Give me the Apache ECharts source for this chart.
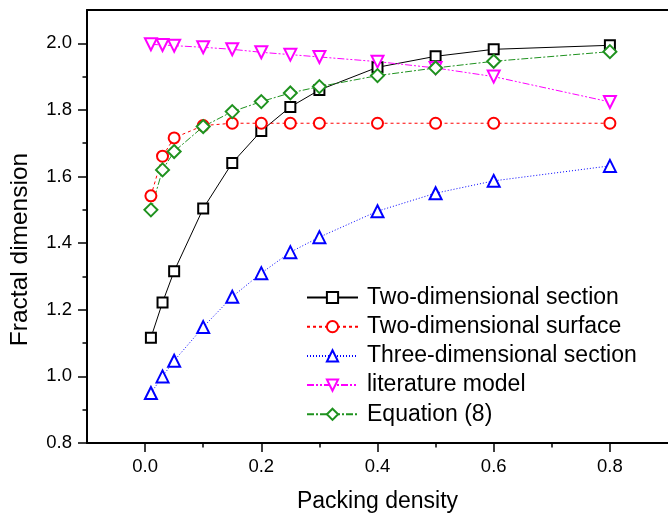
<!DOCTYPE html>
<html>
<head>
<meta charset="utf-8">
<script src="https://cdn.jsdelivr.net/npm/echarts@6/dist/echarts.min.js"></script>
<style>html,body{margin:0;padding:0;background:#fff}#c{width:668px;height:518px}</style>
</head>
<body>
<div id="c"></div>
<script>
const packingDensity = [0.01, 0.03, 0.05, 0.1, 0.15, 0.2, 0.25, 0.3, 0.4, 0.5, 0.6, 0.8];
const twoDimSection   = [1.116, 1.222, 1.316, 1.504, 1.641, 1.737, 1.809, 1.860, 1.928, 1.961, 1.982, 1.994];
const twoDimSurface   = [1.542, 1.661, 1.716, 1.753, 1.760, 1.760, 1.760, 1.760, 1.760, 1.760, 1.760, 1.760];
const threeDimSection = [0.950, 1.000, 1.047, 1.148, 1.239, 1.310, 1.373, 1.418, 1.496, 1.550, 1.587, 1.632];
const literatureModel = [1.997, 1.995, 1.993, 1.988, 1.982, 1.973, 1.966, 1.959, 1.945, 1.926, 1.900, 1.824];
const equation8       = [1.500, 1.620, 1.675, 1.750, 1.795, 1.825, 1.851, 1.870, 1.903, 1.926, 1.946, 1.975];

const xMajorTicks = [0.0, 0.2, 0.4, 0.6, 0.8];
const xMinorTicks = [0.1, 0.3, 0.5, 0.7];
const yMajorTicks = [0.8, 1.0, 1.2, 1.4, 1.6, 1.8, 2.0];
const yMinorTicks = [0.9, 1.1, 1.3, 1.5, 1.7, 1.9];

const seriesNames = ['Two-dimensional section', 'Two-dimensional surface', 'Three-dimensional section', 'literature model', 'Equation (8)'];

const FONT = '"Liberation Sans", Arial, sans-serif';
const chart = echarts.init(document.getElementById('c'), null, {renderer: 'canvas'});

function pairs(ys) { return packingDensity.map((x, i) => [x, ys[i]]); }

const xRange = {min: -0.1, max: 0.9};
const yRange = {min: 0.8, max: 2.1};

const option = {
  backgroundColor: '#fff',
  animation: false,
  grid: {left: 86, top: 10, right: -8, bottom: 72, containLabel: false},
  legend: {
    orient: 'vertical', left: 306, top: 286, padding: 0,
    itemWidth: 51, itemHeight: 14, itemGap: 6.2,
    textStyle: {fontFamily: FONT, fontSize: 23, color: '#000', lineHeight: 23, padding: [0, 0, 0, 4]},
    data: seriesNames
  },
  xAxis: [
    {type: 'value', position: 'bottom', ...xRange,
     axisLine: {onZero: false, lineStyle: {color: '#000', width: 2}},
     axisTick: {customValues: xMajorTicks, length: 9, lineStyle: {color: '#000', width: 1.5}},
     axisLabel: {customValues: xMajorTicks, formatter: v => v.toFixed(1), fontFamily: FONT, fontSize: 18.5, color: '#000', margin: 14},
     splitLine: {show: false},
     name: 'Packing density', nameLocation: 'middle', nameGap: 47,
     nameTextStyle: {fontFamily: FONT, fontSize: 23, color: '#000'}},
    {type: 'value', position: 'bottom', ...xRange,
     axisLine: {show: false, onZero: false},
     axisTick: {customValues: xMinorTicks, length: 4.5, lineStyle: {color: '#000', width: 1.5}},
     axisLabel: {show: false}, splitLine: {show: false}},
    {type: 'value', position: 'top', ...xRange,
     axisLine: {onZero: false, lineStyle: {color: '#000', width: 2}},
     axisTick: {show: false}, axisLabel: {show: false}, splitLine: {show: false}}
  ],
  yAxis: [
    {type: 'value', position: 'left', ...yRange,
     axisLine: {show: true, onZero: false, lineStyle: {color: '#000', width: 2}},
     axisTick: {show: true, customValues: yMajorTicks, length: 9, lineStyle: {color: '#000', width: 1.5}},
     axisLabel: {customValues: yMajorTicks, formatter: v => v.toFixed(1), fontFamily: FONT, fontSize: 18.5, color: '#000', margin: 15},
     splitLine: {show: false},
     name: 'Fractal dimension', nameLocation: 'middle', nameGap: 54,
     nameTextStyle: {fontFamily: FONT, fontSize: 24.5, color: '#000', padding: [0, 46, 0, 0]}},
    {type: 'value', position: 'left', ...yRange,
     axisLine: {show: false, onZero: false},
     axisTick: {show: true, customValues: yMinorTicks, length: 4.5, lineStyle: {color: '#000', width: 1.5}},
     axisLabel: {show: false}, splitLine: {show: false}}
  ],
  series: [
    {name: seriesNames[0], type: 'line', data: pairs(twoDimSection),
     symbol: 'emptyRect', symbolSize: 10,
     lineStyle: {color: '#000', width: 1}, itemStyle: {color: '#000', borderWidth: 1}},
    {name: seriesNames[1], type: 'line', data: pairs(twoDimSurface),
     symbol: 'emptyCircle', symbolSize: 11,
     lineStyle: {color: '#ff0000', width: 1, type: [3, 3]}, itemStyle: {color: '#ff0000', borderWidth: 1}},
    {name: seriesNames[2], type: 'line', data: pairs(threeDimSection),
     symbol: 'emptyTriangle', symbolSize: 12,
     lineStyle: {color: '#0000ff', width: 1, type: [1, 2]}, itemStyle: {color: '#0000ff', borderWidth: 1}},
    {name: seriesNames[3], type: 'line', data: pairs(literatureModel),
     symbol: 'emptyTriangle', symbolRotate: 180, symbolSize: 12,
     lineStyle: {color: '#ff00ff', width: 1, type: [7, 2, 2, 2, 2, 2]}, itemStyle: {color: '#ff00ff', borderWidth: 1}},
    {name: seriesNames[4], type: 'line', data: pairs(equation8),
     symbol: 'emptyDiamond', symbolSize: 13,
     lineStyle: {color: '#1f921f', width: 1, type: [7, 2, 2, 2]}, itemStyle: {color: '#1f921f', borderWidth: 1}}
  ]
};
chart.setOption(option);
</script>
</body>
</html>
